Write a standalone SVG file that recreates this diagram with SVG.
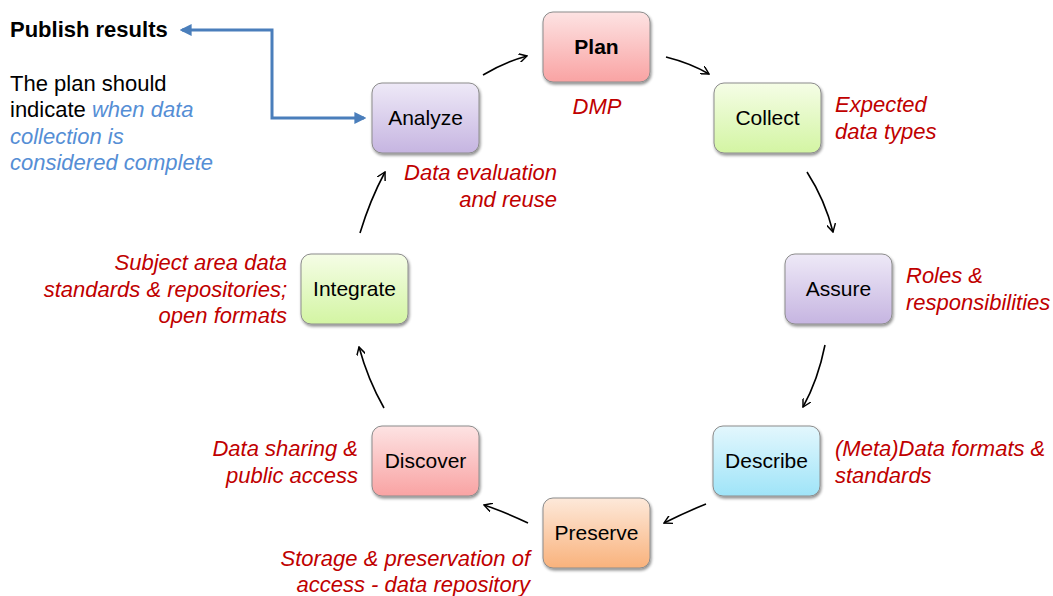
<svg xmlns="http://www.w3.org/2000/svg" width="1053" height="596" viewBox="0 0 1053 596">
<style>
.node rect{stroke:#8c8c8c;stroke-width:1;filter:url(#sh)}
.nt{font-family:"Liberation Sans",Arial,sans-serif;font-size:21px;fill:#000;text-anchor:middle}
.red{font-family:"Liberation Sans",Arial,sans-serif;font-size:22px;font-style:italic;fill:#c00000}
.blk{font-family:"Liberation Sans",Arial,sans-serif;font-size:22px;fill:#000}
.blue{fill:#558ed5;font-style:italic}
.arr{fill:none;stroke:#000;stroke-width:1.6;marker-end:url(#ah)}
</style>
<defs>
<filter id="sh" x="-10%" y="-10%" width="125%" height="130%">
<feGaussianBlur in="SourceAlpha" stdDeviation="1.5"/>
<feOffset dx="1" dy="2" result="b"/>
<feComponentTransfer><feFuncA type="linear" slope="0.45"/></feComponentTransfer>
<feMerge><feMergeNode/><feMergeNode in="SourceGraphic"/></feMerge>
</filter>
<linearGradient id="gRed" x1="0" y1="0" x2="0" y2="1"><stop offset="0" stop-color="#fde3e3"/><stop offset="1" stop-color="#f9a3a3"/></linearGradient>
<linearGradient id="gPur" x1="0" y1="0" x2="0" y2="1"><stop offset="0" stop-color="#eee9f7"/><stop offset="1" stop-color="#c6b5e1"/></linearGradient>
<linearGradient id="gGrn" x1="0" y1="0" x2="0" y2="1"><stop offset="0" stop-color="#f5fde6"/><stop offset="1" stop-color="#d3f5a3"/></linearGradient>
<linearGradient id="gBlu" x1="0" y1="0" x2="0" y2="1"><stop offset="0" stop-color="#e3f7fd"/><stop offset="1" stop-color="#9fe4f8"/></linearGradient>
<linearGradient id="gOrg" x1="0" y1="0" x2="0" y2="1"><stop offset="0" stop-color="#fde9da"/><stop offset="1" stop-color="#f9b27c"/></linearGradient>
<marker id="ah" viewBox="0 0 10 10" refX="9" refY="5" markerWidth="9" markerHeight="9" markerUnits="userSpaceOnUse" orient="auto">
<path d="M0,0 L9,5 L0,10" fill="none" stroke="#000" stroke-width="1.6"/>
</marker>
<marker id="bh" viewBox="0 0 10 10" refX="8" refY="5" markerWidth="4" markerHeight="4" orient="auto-start-reverse">
<path d="M0,0 L10,5 L0,10 Z" fill="#4a7ebb"/>
</marker>
</defs>
<rect width="1053" height="596" fill="#fff"/>

<g id="connectors">
<path class="arr" d="M483,75 Q505,62 527,56"/>
<path class="arr" d="M666,57 Q690,63 709,74"/>
<path class="arr" d="M807,172 Q825,200 833,232"/>
<path class="arr" d="M825,345 Q818,380 803,407"/>
<path class="arr" d="M706,504 Q686,512 664,523"/>
<path class="arr" d="M528,523 Q505,512 484,505"/>
<path class="arr" d="M384,408 Q368,380 359,347"/>
<path class="arr" d="M360,233 Q370,200 385,172"/>
<path d="M182,30 H272 V118 H364" fill="none" stroke="#4a7ebb" stroke-width="3" marker-start="url(#bh)" marker-end="url(#bh)"/>
</g>

<g id="plan" class="node"><rect x="543" y="12" width="107" height="70" rx="10" fill="url(#gRed)"/><text class="nt" x="596.5" y="54" font-weight="bold">Plan</text></g>
<g id="collect" class="node"><rect x="714" y="83" width="107" height="70" rx="10" fill="url(#gGrn)"/><text class="nt" x="767.5" y="125">Collect</text></g>
<g id="assure" class="node"><rect x="785" y="254" width="107" height="70" rx="10" fill="url(#gPur)"/><text class="nt" x="838.5" y="296">Assure</text></g>
<g id="describe" class="node"><rect x="713" y="426" width="107" height="70" rx="10" fill="url(#gBlu)"/><text class="nt" x="766.5" y="468">Describe</text></g>
<g id="preserve" class="node"><rect x="543" y="498" width="107" height="70" rx="10" fill="url(#gOrg)"/><text class="nt" x="596.5" y="540">Preserve</text></g>
<g id="discover" class="node"><rect x="372" y="426" width="107" height="70" rx="10" fill="url(#gRed)"/><text class="nt" x="425.5" y="468">Discover</text></g>
<g id="integrate" class="node"><rect x="301" y="254" width="107" height="70" rx="10" fill="url(#gGrn)"/><text class="nt" x="354.5" y="296">Integrate</text></g>
<g id="analyze" class="node"><rect x="372" y="83" width="107" height="70" rx="10" fill="url(#gPur)"/><text class="nt" x="425.5" y="125">Analyze</text></g>

<g id="labels">
<text class="red" x="597" y="114" text-anchor="middle">DMP</text>
<text class="red" x="835"><tspan x="835" y="112">Expected</tspan><tspan x="835" y="139">data types</tspan></text>
<text class="red" x="906"><tspan x="906" y="283">Roles &amp;</tspan><tspan x="906" y="310">responsibilities</tspan></text>
<text class="red" x="835"><tspan x="835" y="456">(Meta)Data formats &amp;</tspan><tspan x="835" y="483">standards</tspan></text>
<text class="red" text-anchor="end"><tspan x="530" y="566">Storage &amp; preservation of</tspan><tspan x="530" y="592">access - data repository</tspan></text>
<text class="red" text-anchor="end"><tspan x="358" y="456">Data sharing &amp;</tspan><tspan x="358" y="483">public access</tspan></text>
<text class="red" text-anchor="end"><tspan x="287" y="270">Subject area data</tspan><tspan x="287" y="297">standards &amp; repositories;</tspan><tspan x="287" y="323">open formats</tspan></text>
<text class="red" text-anchor="end"><tspan x="557" y="180">Data evaluation</tspan><tspan x="557" y="207">and reuse</tspan></text>
</g>

<g id="publish">
<text class="blk" x="10" y="37" font-weight="bold">Publish results</text>
<text class="blk"><tspan x="10" y="91">The plan should</tspan><tspan x="10" y="117">indicate <tspan class="blue">when data</tspan></tspan><tspan x="10" y="144" class="blue">collection is</tspan><tspan x="10" y="170" class="blue">considered complete</tspan></text>
</g>
</svg>
